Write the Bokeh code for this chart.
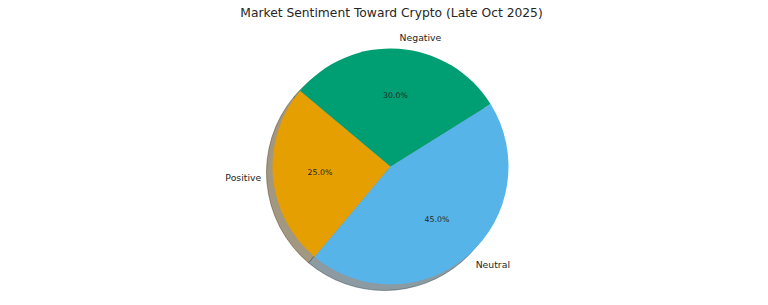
import numpy as np
from bokeh.plotting import figure
from bokeh.models import Range1d, Label, ColumnDataSource
from bokeh.core.properties import value
from bokeh.embed import file_html
from bokeh.resources import INLINE

title = "Market Sentiment Toward Crypto (Late Oct 2025)"
labels = ["Positive", "Neutral", "Negative"]
shares = [25, 45, 30]
colors = ["#E69F00", "#56B4E9", "#009E73"]
start_deg = 140.0

W, H = 768, 305
cx, cy, R = 390.0, 139.0, 118.0
sx, sy = -6.0, -6.0

vals = np.array(shares, dtype=float)
frac = vals / vals.sum()
ends = np.radians(start_deg) + 2 * np.pi * np.cumsum(frac)
starts = ends - 2 * np.pi * frac
mids = (starts + ends) / 2

def shade(c):
    r, g, b = int(c[1:3], 16), int(c[3:5], 16), int(c[5:7], 16)
    f = lambda v: int(round(0.5 * 0.3 * v + 0.5 * 255))
    return "#%02x%02x%02x" % (f(r), f(g), f(b))

shadow_colors = [shade(c) for c in colors]
edge_colors = []
for c in colors:
    r, g, b = int(c[1:3], 16), int(c[3:5], 16), int(c[5:7], 16)
    edge_colors.append("#%02x%02x%02x" % (int(r * 0.25), int(g * 0.25), int(b * 0.25)))

p = figure(width=W, height=H, x_range=Range1d(0, W), y_range=Range1d(0, H),
           output_backend="svg", toolbar_location=None, min_border=0,
           background_fill_color="white", border_fill_color="white")
p.axis.visible = False
p.grid.visible = False
p.outline_line_color = None

src = ColumnDataSource(dict(start=starts, end=ends, color=colors,
                            scolor=shadow_colors, ecolor=edge_colors,
                            label=labels))

p.wedge(x=cx + sx, y=cy + sy, radius=R, start_angle="start", end_angle="end",
        fill_color="scolor", line_color="ecolor", line_alpha=0.5, line_width=0.8,
        source=src)
p.wedge(x=cx, y=cy, radius=R, start_angle="start", end_angle="end",
        fill_color="color", line_color=None, source=src)

# outer labels
lx = cx + 1.1 * R * np.cos(mids)
ly = cy + 1.1 * R * np.sin(mids)
align = ["left" if np.cos(m) > 0 else "right" for m in mids]
p.text(x=lx, y=ly, text=labels, text_align=align, text_baseline="middle",
       text_font=value("DejaVu Sans"), text_font_size="9.3px", text_color="#262626")

# percentages
px = cx + 0.6 * R * np.cos(mids)
py = cy + 0.6 * R * np.sin(mids)
pct = ["%.1f%%" % (100 * f) for f in frac]
p.text(x=px, y=py, text=pct, text_align="center", text_baseline="middle",
       text_font=value("DejaVu Sans"), text_font_size="7.8px", text_color="#262626")

p.add_layout(Label(x=cx + 1, y=H - 12, text=title, text_align="center",
                   text_baseline="middle", text_font="DejaVu Sans",
                   text_font_size="12.3px", text_color="#262626"))

open("out.html", "w").write(file_html(p, INLINE))
